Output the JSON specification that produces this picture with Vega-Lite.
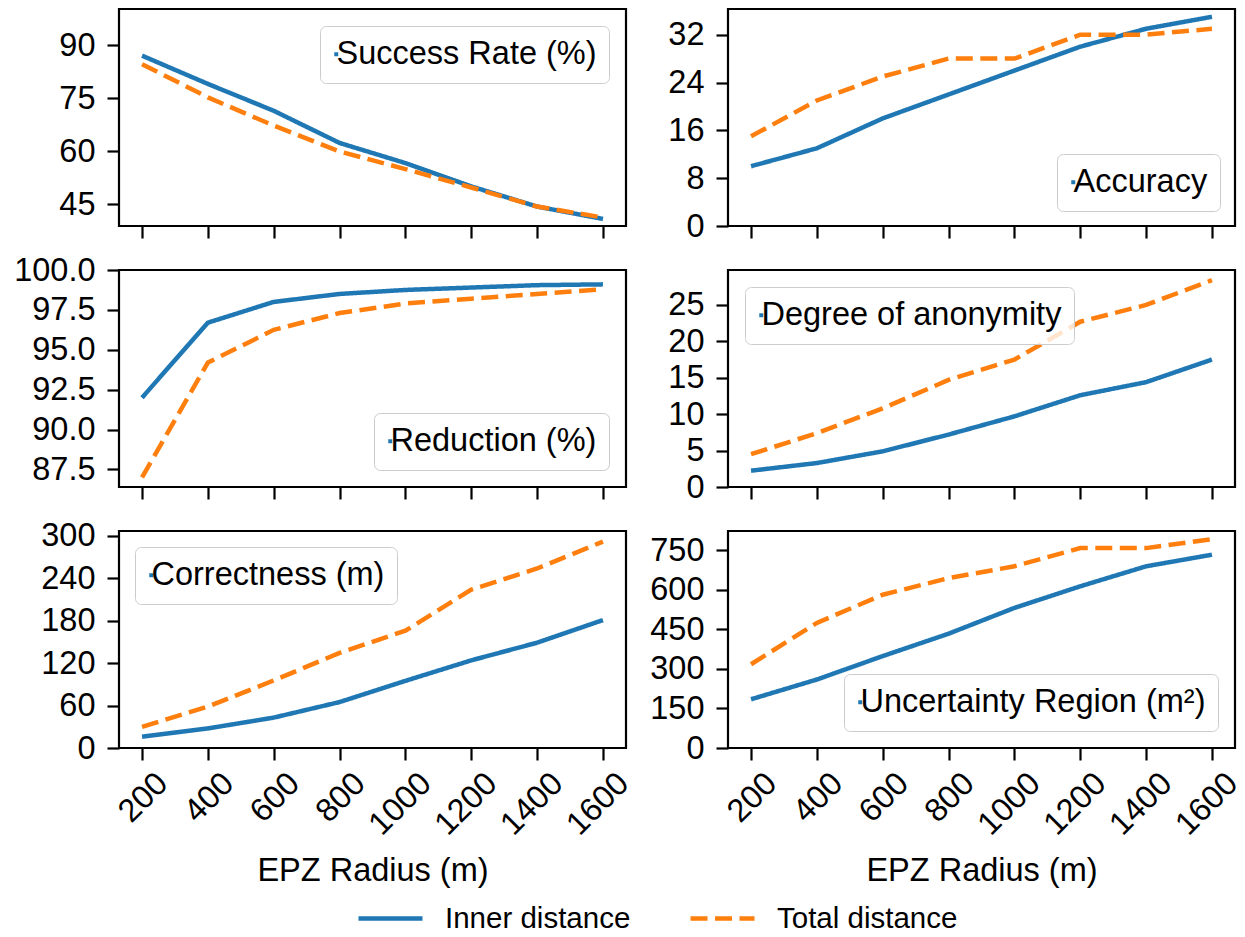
{
  "$schema": "https://vega.github.io/schema/vega-lite/v6.json",
  "padding": {"left": 12, "top": 7, "right": 5, "bottom": 5},
  "background": "white",
  "datasets": {
    "d": [
      {"panel": "Success Rate (%)", "series": "Inner distance", "r": 200, "v": 87.0},
      {"panel": "Success Rate (%)", "series": "Inner distance", "r": 400, "v": 79.0},
      {"panel": "Success Rate (%)", "series": "Inner distance", "r": 600, "v": 71.4},
      {"panel": "Success Rate (%)", "series": "Inner distance", "r": 800, "v": 62.3},
      {"panel": "Success Rate (%)", "series": "Inner distance", "r": 1000, "v": 56.6},
      {"panel": "Success Rate (%)", "series": "Inner distance", "r": 1200, "v": 50.0},
      {"panel": "Success Rate (%)", "series": "Inner distance", "r": 1400, "v": 44.3},
      {"panel": "Success Rate (%)", "series": "Inner distance", "r": 1600, "v": 40.8},
      {"panel": "Success Rate (%)", "series": "Total distance", "r": 200, "v": 84.6},
      {"panel": "Success Rate (%)", "series": "Total distance", "r": 400, "v": 75.2},
      {"panel": "Success Rate (%)", "series": "Total distance", "r": 600, "v": 67.2},
      {"panel": "Success Rate (%)", "series": "Total distance", "r": 800, "v": 59.9},
      {"panel": "Success Rate (%)", "series": "Total distance", "r": 1000, "v": 54.9},
      {"panel": "Success Rate (%)", "series": "Total distance", "r": 1200, "v": 49.7},
      {"panel": "Success Rate (%)", "series": "Total distance", "r": 1400, "v": 44.3},
      {"panel": "Success Rate (%)", "series": "Total distance", "r": 1600, "v": 41.2},
      {"panel": "Accuracy", "series": "Inner distance", "r": 200, "v": 10},
      {"panel": "Accuracy", "series": "Inner distance", "r": 400, "v": 13},
      {"panel": "Accuracy", "series": "Inner distance", "r": 600, "v": 18},
      {"panel": "Accuracy", "series": "Inner distance", "r": 800, "v": 22},
      {"panel": "Accuracy", "series": "Inner distance", "r": 1000, "v": 26},
      {"panel": "Accuracy", "series": "Inner distance", "r": 1200, "v": 30},
      {"panel": "Accuracy", "series": "Inner distance", "r": 1400, "v": 33},
      {"panel": "Accuracy", "series": "Inner distance", "r": 1600, "v": 35},
      {"panel": "Accuracy", "series": "Total distance", "r": 200, "v": 15},
      {"panel": "Accuracy", "series": "Total distance", "r": 400, "v": 21},
      {"panel": "Accuracy", "series": "Total distance", "r": 600, "v": 25},
      {"panel": "Accuracy", "series": "Total distance", "r": 800, "v": 28},
      {"panel": "Accuracy", "series": "Total distance", "r": 1000, "v": 28},
      {"panel": "Accuracy", "series": "Total distance", "r": 1200, "v": 32},
      {"panel": "Accuracy", "series": "Total distance", "r": 1400, "v": 32},
      {"panel": "Accuracy", "series": "Total distance", "r": 1600, "v": 33},
      {"panel": "Reduction (%)", "series": "Inner distance", "r": 200, "v": 92.0},
      {"panel": "Reduction (%)", "series": "Inner distance", "r": 400, "v": 96.7},
      {"panel": "Reduction (%)", "series": "Inner distance", "r": 600, "v": 98.0},
      {"panel": "Reduction (%)", "series": "Inner distance", "r": 800, "v": 98.5},
      {"panel": "Reduction (%)", "series": "Inner distance", "r": 1000, "v": 98.75},
      {"panel": "Reduction (%)", "series": "Inner distance", "r": 1200, "v": 98.9},
      {"panel": "Reduction (%)", "series": "Inner distance", "r": 1400, "v": 99.05},
      {"panel": "Reduction (%)", "series": "Inner distance", "r": 1600, "v": 99.1},
      {"panel": "Reduction (%)", "series": "Total distance", "r": 200, "v": 87.0},
      {"panel": "Reduction (%)", "series": "Total distance", "r": 400, "v": 94.2},
      {"panel": "Reduction (%)", "series": "Total distance", "r": 600, "v": 96.25},
      {"panel": "Reduction (%)", "series": "Total distance", "r": 800, "v": 97.3},
      {"panel": "Reduction (%)", "series": "Total distance", "r": 1000, "v": 97.9},
      {"panel": "Reduction (%)", "series": "Total distance", "r": 1200, "v": 98.2},
      {"panel": "Reduction (%)", "series": "Total distance", "r": 1400, "v": 98.5},
      {"panel": "Reduction (%)", "series": "Total distance", "r": 1600, "v": 98.8},
      {"panel": "Degree of anonymity", "series": "Inner distance", "r": 200, "v": 2.24},
      {"panel": "Degree of anonymity", "series": "Inner distance", "r": 400, "v": 3.29},
      {"panel": "Degree of anonymity", "series": "Inner distance", "r": 600, "v": 4.9},
      {"panel": "Degree of anonymity", "series": "Inner distance", "r": 800, "v": 7.2},
      {"panel": "Degree of anonymity", "series": "Inner distance", "r": 1000, "v": 9.7},
      {"panel": "Degree of anonymity", "series": "Inner distance", "r": 1200, "v": 12.6},
      {"panel": "Degree of anonymity", "series": "Inner distance", "r": 1400, "v": 14.4},
      {"panel": "Degree of anonymity", "series": "Inner distance", "r": 1600, "v": 17.5},
      {"panel": "Degree of anonymity", "series": "Total distance", "r": 200, "v": 4.5},
      {"panel": "Degree of anonymity", "series": "Total distance", "r": 400, "v": 7.4},
      {"panel": "Degree of anonymity", "series": "Total distance", "r": 600, "v": 10.8},
      {"panel": "Degree of anonymity", "series": "Total distance", "r": 800, "v": 14.7},
      {"panel": "Degree of anonymity", "series": "Total distance", "r": 1000, "v": 17.5},
      {"panel": "Degree of anonymity", "series": "Total distance", "r": 1200, "v": 22.7},
      {"panel": "Degree of anonymity", "series": "Total distance", "r": 1400, "v": 25.0},
      {"panel": "Degree of anonymity", "series": "Total distance", "r": 1600, "v": 28.4},
      {"panel": "Correctness (m)", "series": "Inner distance", "r": 200, "v": 16},
      {"panel": "Correctness (m)", "series": "Inner distance", "r": 400, "v": 27.7},
      {"panel": "Correctness (m)", "series": "Inner distance", "r": 600, "v": 43},
      {"panel": "Correctness (m)", "series": "Inner distance", "r": 800, "v": 65},
      {"panel": "Correctness (m)", "series": "Inner distance", "r": 1000, "v": 95},
      {"panel": "Correctness (m)", "series": "Inner distance", "r": 1200, "v": 124},
      {"panel": "Correctness (m)", "series": "Inner distance", "r": 1400, "v": 149},
      {"panel": "Correctness (m)", "series": "Inner distance", "r": 1600, "v": 181},
      {"panel": "Correctness (m)", "series": "Total distance", "r": 200, "v": 30},
      {"panel": "Correctness (m)", "series": "Total distance", "r": 400, "v": 58.6},
      {"panel": "Correctness (m)", "series": "Total distance", "r": 600, "v": 95.6},
      {"panel": "Correctness (m)", "series": "Total distance", "r": 800, "v": 134.5},
      {"panel": "Correctness (m)", "series": "Total distance", "r": 1000, "v": 166},
      {"panel": "Correctness (m)", "series": "Total distance", "r": 1200, "v": 224},
      {"panel": "Correctness (m)", "series": "Total distance", "r": 1400, "v": 254},
      {"panel": "Correctness (m)", "series": "Total distance", "r": 1600, "v": 292},
      {"panel": "Uncertainty Region (m²)", "series": "Inner distance", "r": 200, "v": 185},
      {"panel": "Uncertainty Region (m²)", "series": "Inner distance", "r": 400, "v": 260},
      {"panel": "Uncertainty Region (m²)", "series": "Inner distance", "r": 600, "v": 349},
      {"panel": "Uncertainty Region (m²)", "series": "Inner distance", "r": 800, "v": 434},
      {"panel": "Uncertainty Region (m²)", "series": "Inner distance", "r": 1000, "v": 532},
      {"panel": "Uncertainty Region (m²)", "series": "Inner distance", "r": 1200, "v": 614},
      {"panel": "Uncertainty Region (m²)", "series": "Inner distance", "r": 1400, "v": 690},
      {"panel": "Uncertainty Region (m²)", "series": "Inner distance", "r": 1600, "v": 734},
      {"panel": "Uncertainty Region (m²)", "series": "Total distance", "r": 200, "v": 318},
      {"panel": "Uncertainty Region (m²)", "series": "Total distance", "r": 400, "v": 475},
      {"panel": "Uncertainty Region (m²)", "series": "Total distance", "r": 600, "v": 582},
      {"panel": "Uncertainty Region (m²)", "series": "Total distance", "r": 800, "v": 645},
      {"panel": "Uncertainty Region (m²)", "series": "Total distance", "r": 1000, "v": 690},
      {"panel": "Uncertainty Region (m²)", "series": "Total distance", "r": 1200, "v": 759},
      {"panel": "Uncertainty Region (m²)", "series": "Total distance", "r": 1400, "v": 759},
      {"panel": "Uncertainty Region (m²)", "series": "Total distance", "r": 1600, "v": 793}
    ]
  },
  "data": {"name": "d"},
  "columns": 2,
  "spacing": {"row": 44, "column": 102},
  "bounds": "flush",
  "resolve": {"scale": {"shape": "independent", "y": "independent"}, "legend": {"shape": "independent"}},
  "concat": [
    {
      "width": 507, "height": 217,
      "transform": [{"filter": "datum.panel === 'Success Rate (%)'"}],
      "encoding": {
        "x": {"field": "r", "type": "quantitative", "scale": {"domain": [130, 1670], "nice": false, "zero": false}, "axis": {"values": [200, 400, 600, 800, 1000, 1200, 1400, 1600], "labels": false, "title": null}},
        "y": {"field": "v", "type": "quantitative", "scale": {"domain": [38.8, 100.2], "nice": false, "zero": false}, "axis": {"values": [45, 60, 75, 90], "title": null}}
      },
      "layer": [
        {"mark": {"type": "line", "strokeWidth": 4.5, "clip": true},
         "encoding": {
           "color": {"field": "series", "type": "nominal", "scale": {"domain": ["Inner distance", "Total distance"], "range": ["#1f77b4", "#ff7f0e"]}, "legend": {"title": null}},
           "strokeDash": {"field": "series", "type": "nominal", "scale": {"domain": ["Inner distance", "Total distance"], "range": [[1, 0], [17, 7.5]]}, "legend": {"title": null}}
         }},
        {"mark": {"type": "point", "filled": true, "opacity": 0, "color": "#1f77b4"},
         "transform": [{"filter": "datum.r === 200 && datum.series === 'Inner distance'"}],
         "encoding": {"shape": {"field": "panel", "type": "nominal", "scale": {"range": ["square"]},
           "legend": {"title": null, "orient": "top-right", "offset": 17, "symbolType": "square", "symbolSize": 16, "symbolOffset": -12, "symbolFillColor": "#1f77b4", "symbolStrokeColor": "#1f77b4", "symbolStrokeWidth": 0, "symbolOpacity": 1, "labelOffset": -16, "labelLimit": 0, "labelFontSize": 32.5, "padding": 12, "fillColor": "rgba(255,255,255,0.8)", "strokeColor": "#cccccc", "cornerRadius": 6}}}}
      ]
    },
    {
      "width": 507, "height": 217,
      "transform": [{"filter": "datum.panel === 'Accuracy'"}],
      "encoding": {
        "x": {"field": "r", "type": "quantitative", "scale": {"domain": [130, 1670], "nice": false, "zero": false}, "axis": {"values": [200, 400, 600, 800, 1000, 1200, 1400, 1600], "labels": false, "title": null}},
        "y": {"field": "v", "type": "quantitative", "scale": {"domain": [0, 36.3], "nice": false, "zero": false}, "axis": {"values": [0, 8, 16, 24, 32], "title": null}}
      },
      "layer": [
        {"mark": {"type": "line", "strokeWidth": 4.5, "clip": true},
         "encoding": {
           "color": {"field": "series", "type": "nominal", "scale": {"domain": ["Inner distance", "Total distance"], "range": ["#1f77b4", "#ff7f0e"]}, "legend": {"title": null}},
           "strokeDash": {"field": "series", "type": "nominal", "scale": {"domain": ["Inner distance", "Total distance"], "range": [[1, 0], [17, 7.5]]}, "legend": {"title": null}}
         }},
        {"mark": {"type": "point", "filled": true, "opacity": 0, "color": "#1f77b4"},
         "transform": [{"filter": "datum.r === 200 && datum.series === 'Inner distance'"}],
         "encoding": {"shape": {"field": "panel", "type": "nominal", "scale": {"range": ["square"]},
           "legend": {"title": null, "orient": "bottom-right", "offset": 15, "symbolType": "square", "symbolSize": 16, "symbolOffset": -12, "symbolFillColor": "#1f77b4", "symbolStrokeColor": "#1f77b4", "symbolStrokeWidth": 0, "symbolOpacity": 1, "labelOffset": -16, "labelLimit": 0, "labelFontSize": 32.5, "padding": 12, "fillColor": "rgba(255,255,255,0.8)", "strokeColor": "#cccccc", "cornerRadius": 6}}}}
      ]
    },
    {
      "width": 507, "height": 217,
      "transform": [{"filter": "datum.panel === 'Reduction (%)'"}],
      "encoding": {
        "x": {"field": "r", "type": "quantitative", "scale": {"domain": [130, 1670], "nice": false, "zero": false}, "axis": {"values": [200, 400, 600, 800, 1000, 1200, 1400, 1600], "labels": false, "title": null}},
        "y": {"field": "v", "type": "quantitative", "scale": {"domain": [86.4, 100.0], "nice": false, "zero": false}, "axis": {"values": [87.5, 90, 92.5, 95, 97.5, 100], "format": ".1f", "title": null}}
      },
      "layer": [
        {"mark": {"type": "line", "strokeWidth": 4.5, "clip": true},
         "encoding": {
           "color": {"field": "series", "type": "nominal", "scale": {"domain": ["Inner distance", "Total distance"], "range": ["#1f77b4", "#ff7f0e"]}, "legend": {"title": null}},
           "strokeDash": {"field": "series", "type": "nominal", "scale": {"domain": ["Inner distance", "Total distance"], "range": [[1, 0], [17, 7.5]]}, "legend": {"title": null}}
         }},
        {"mark": {"type": "point", "filled": true, "opacity": 0, "color": "#1f77b4"},
         "transform": [{"filter": "datum.r === 1600 && datum.series === 'Inner distance'"}],
         "encoding": {"shape": {"field": "panel", "type": "nominal", "scale": {"range": ["square"]},
           "legend": {"title": null, "orient": "bottom-right", "offset": 17, "symbolType": "square", "symbolSize": 16, "symbolOffset": -12, "symbolFillColor": "#1f77b4", "symbolStrokeColor": "#1f77b4", "symbolStrokeWidth": 0, "symbolOpacity": 1, "labelOffset": -16, "labelLimit": 0, "labelFontSize": 32.5, "padding": 12, "fillColor": "rgba(255,255,255,0.8)", "strokeColor": "#cccccc", "cornerRadius": 6}}}}
      ]
    },
    {
      "width": 507, "height": 217,
      "transform": [{"filter": "datum.panel === 'Degree of anonymity'"}],
      "encoding": {
        "x": {"field": "r", "type": "quantitative", "scale": {"domain": [130, 1670], "nice": false, "zero": false}, "axis": {"values": [200, 400, 600, 800, 1000, 1200, 1400, 1600], "labels": false, "title": null}},
        "y": {"field": "v", "type": "quantitative", "scale": {"domain": [0, 29.8], "nice": false, "zero": false}, "axis": {"values": [0, 5, 10, 15, 20, 25], "title": null}}
      },
      "layer": [
        {"mark": {"type": "line", "strokeWidth": 4.5, "clip": true},
         "encoding": {
           "color": {"field": "series", "type": "nominal", "scale": {"domain": ["Inner distance", "Total distance"], "range": ["#1f77b4", "#ff7f0e"]}, "legend": {"title": null}},
           "strokeDash": {"field": "series", "type": "nominal", "scale": {"domain": ["Inner distance", "Total distance"], "range": [[1, 0], [17, 7.5]]}, "legend": {"title": null}}
         }},
        {"mark": {"type": "point", "filled": true, "opacity": 0, "color": "#1f77b4"},
         "transform": [{"filter": "datum.r === 200 && datum.series === 'Inner distance'"}],
         "encoding": {"shape": {"field": "panel", "type": "nominal", "scale": {"range": ["square"]},
           "legend": {"title": null, "orient": "top-left", "offset": 17, "symbolType": "square", "symbolSize": 16, "symbolOffset": -12, "symbolFillColor": "#1f77b4", "symbolStrokeColor": "#1f77b4", "symbolStrokeWidth": 0, "symbolOpacity": 1, "labelOffset": -16, "labelLimit": 0, "labelFontSize": 32.5, "padding": 12, "fillColor": "rgba(255,255,255,0.8)", "strokeColor": "#cccccc", "cornerRadius": 6}}}}
      ]
    },
    {
      "width": 507, "height": 217,
      "transform": [{"filter": "datum.panel === 'Correctness (m)'"}],
      "encoding": {
        "x": {"field": "r", "type": "quantitative", "scale": {"domain": [130, 1670], "nice": false, "zero": false}, "axis": {"values": [200, 400, 600, 800, 1000, 1200, 1400, 1600], "format": "d", "labelAngle": -45, "labelAlign": "right", "labelBaseline": "middle", "labelOffset": 20, "labelPadding": 18, "title": "EPZ Radius (m)", "titlePadding": 14}},
        "y": {"field": "v", "type": "quantitative", "scale": {"domain": [0, 307], "nice": false, "zero": false}, "axis": {"values": [0, 60, 120, 180, 240, 300], "title": null}}
      },
      "layer": [
        {"mark": {"type": "line", "strokeWidth": 4.5, "clip": true},
         "encoding": {
           "color": {"field": "series", "type": "nominal", "scale": {"domain": ["Inner distance", "Total distance"], "range": ["#1f77b4", "#ff7f0e"]}, "legend": {"title": null}},
           "strokeDash": {"field": "series", "type": "nominal", "scale": {"domain": ["Inner distance", "Total distance"], "range": [[1, 0], [17, 7.5]]}, "legend": {"title": null}}
         }},
        {"mark": {"type": "point", "filled": true, "opacity": 0, "color": "#1f77b4"},
         "transform": [{"filter": "datum.r === 200 && datum.series === 'Inner distance'"}],
         "encoding": {"shape": {"field": "panel", "type": "nominal", "scale": {"range": ["square"]},
           "legend": {"title": null, "orient": "top-left", "offset": 16, "symbolType": "square", "symbolSize": 16, "symbolOffset": -12, "symbolFillColor": "#1f77b4", "symbolStrokeColor": "#1f77b4", "symbolStrokeWidth": 0, "symbolOpacity": 1, "labelOffset": -16, "labelLimit": 0, "labelFontSize": 32.5, "padding": 12, "fillColor": "rgba(255,255,255,0.8)", "strokeColor": "#cccccc", "cornerRadius": 6}}}}
      ]
    },
    {
      "width": 507, "height": 217,
      "transform": [{"filter": "datum.panel === 'Uncertainty Region (m²)'"}],
      "encoding": {
        "x": {"field": "r", "type": "quantitative", "scale": {"domain": [130, 1670], "nice": false, "zero": false}, "axis": {"values": [200, 400, 600, 800, 1000, 1200, 1400, 1600], "format": "d", "labelAngle": -45, "labelAlign": "right", "labelBaseline": "middle", "labelOffset": 20, "labelPadding": 18, "title": "EPZ Radius (m)", "titlePadding": 14}},
        "y": {"field": "v", "type": "quantitative", "scale": {"domain": [0, 824], "nice": false, "zero": false}, "axis": {"values": [0, 150, 300, 450, 600, 750], "title": null}}
      },
      "layer": [
        {"mark": {"type": "line", "strokeWidth": 4.5, "clip": true},
         "encoding": {
           "color": {"field": "series", "type": "nominal", "scale": {"domain": ["Inner distance", "Total distance"], "range": ["#1f77b4", "#ff7f0e"]}, "legend": {"title": null}},
           "strokeDash": {"field": "series", "type": "nominal", "scale": {"domain": ["Inner distance", "Total distance"], "range": [[1, 0], [17, 7.5]]}, "legend": {"title": null}}
         }},
        {"mark": {"type": "point", "filled": true, "opacity": 0, "color": "#1f77b4"},
         "transform": [{"filter": "datum.r === 1600 && datum.series === 'Inner distance'"}],
         "encoding": {"shape": {"field": "panel", "type": "nominal", "scale": {"range": ["square"]},
           "legend": {"title": null, "orient": "bottom-right", "offset": 17, "symbolType": "square", "symbolSize": 16, "symbolOffset": -12, "symbolFillColor": "#1f77b4", "symbolStrokeColor": "#1f77b4", "symbolStrokeWidth": 0, "symbolOpacity": 1, "labelOffset": -16, "labelLimit": 0, "labelFontSize": 32.5, "padding": 12, "fillColor": "rgba(255,255,255,0.8)", "strokeColor": "#cccccc", "cornerRadius": 6}}}}
      ]
    }
  ],
  "config": {
    "font": "Liberation Sans",
    "view": {"stroke": "#000000", "strokeWidth": 2.2},
    "axis": {"domain": false, "grid": false, "ticks": true, "tickSize": 12, "tickWidth": 2.2, "tickColor": "#000000", "labelFontSize": 32.5, "labelColor": "#000000", "labelFont": "Liberation Sans", "labelPadding": 12, "labelFlush": false, "labelOverlap": false, "labelBound": false, "titleFontSize": 32.5, "titleFontWeight": "normal", "titleColor": "#000000", "titleFont": "Liberation Sans"},
    "legend": {"orient": "none", "legendX": 237, "legendY": 875, "padding": 0, "direction": "horizontal", "labelFontSize": 29.5, "labelColor": "#000000", "labelFont": "Liberation Sans", "labelLimit": 0, "symbolType": "stroke", "symbolSize": 4096, "symbolStrokeWidth": 4.5, "columnPadding": 50, "labelOffset": 20}
  }
}
